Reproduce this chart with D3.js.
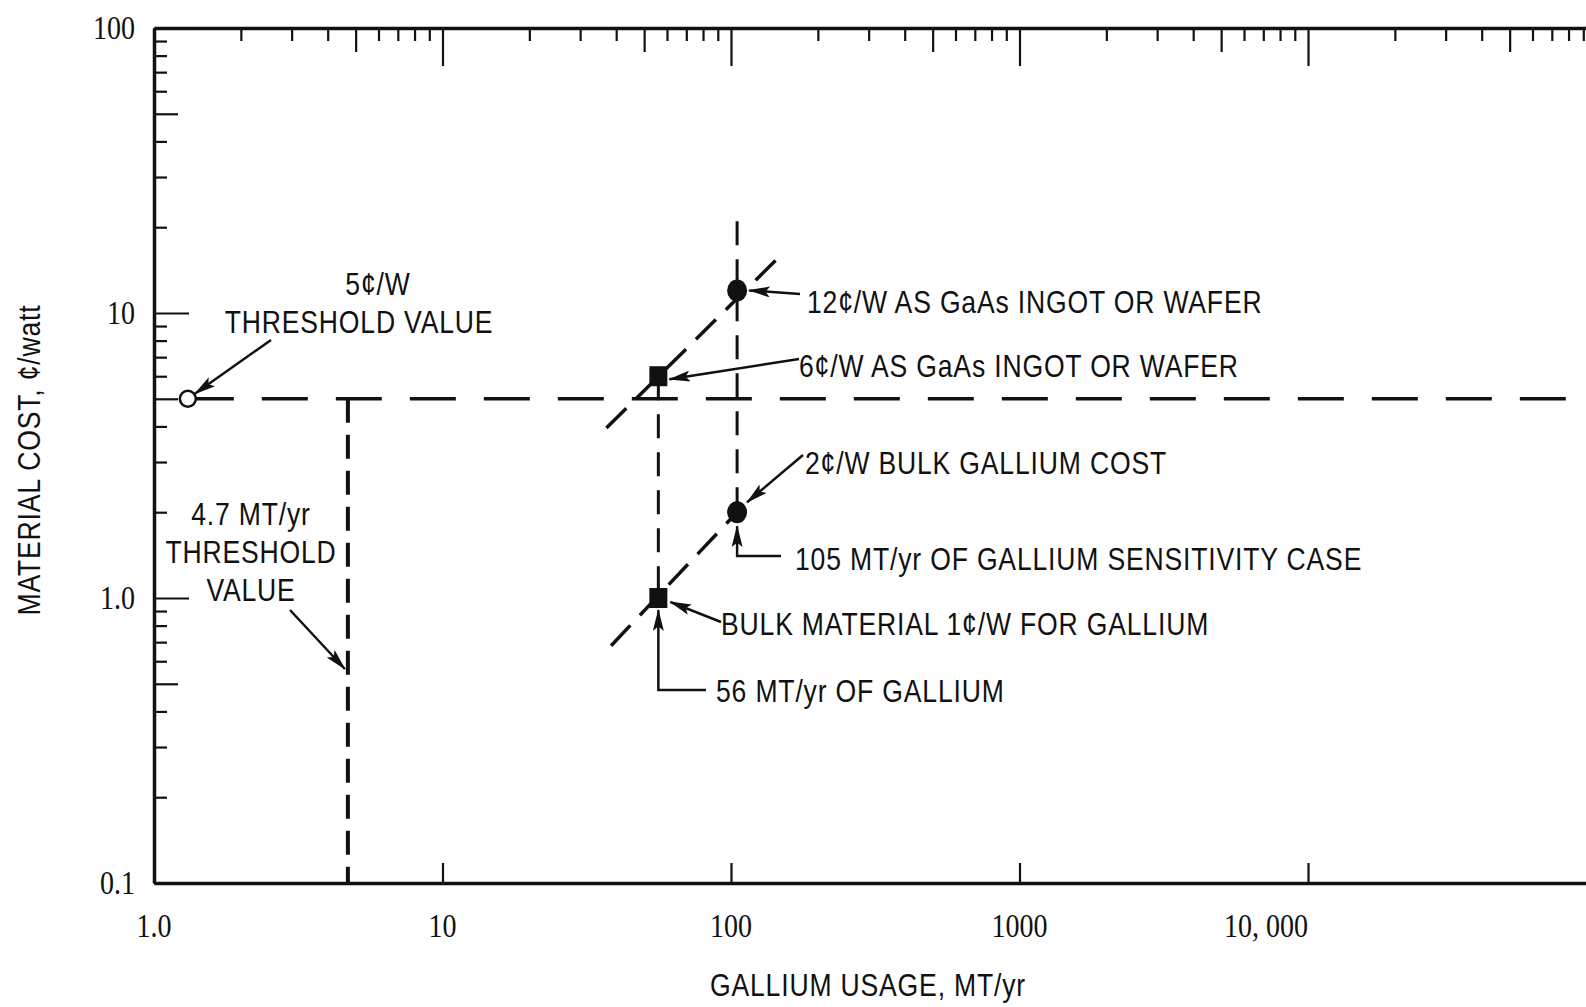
<!DOCTYPE html>
<html>
<head>
<meta charset="utf-8">
<script src="https://cdn.jsdelivr.net/npm/d3@7"></script>
<style>
  body { margin: 0; background: #fff; }
  svg { display: block; }
  .lbl { font-family: "Liberation Sans", Arial, sans-serif; font-size: 32px; letter-spacing: 1px; fill: #111; }
  .num { font-family: "Liberation Serif", "DejaVu Serif", serif; font-size: 33px; fill: #111; }
</style>
</head>
<body>
<svg id="chart" width="1586" height="1007"></svg>
<script>
// 軸の目盛り
var xTicks = [1, 10, 100, 1000, 10000];
var xTickLabels = ["1.0", "10", "100", "1000", "10, 000"];
var yTicks = [0.1, 1, 10, 100];
var yTickLabels = ["0.1", "1.0", "10", "100"];

// しきい値
var thresholdCost = 5;        // ¢/W
var thresholdUsage = 4.7;     // MT/yr
var thresholdPoint = [1.31, 5];

// ガリウム使用量ケース
var caseUsage = [56, 105];
var ingotCost = [6, 12];
var bulkCost = [1, 2];

// 破線の端点
var ingotLine = [[37, 3.95], [154, 16.5]];
var bulkLine = [[38.4, 0.68], [105, 2]];
var sensTop = 21;

var svg = d3.select("#chart");

var x = d3.scaleLog().domain([1, 1e5]).range([154, 154 + 5 * 288.5]);
var y = d3.scaleLog().domain([0.1, 100]).range([883, 28]);

// 各桁の 2..9 の補助目盛り
function minorTicks(lo, hi) {
  var out = [];
  for (var p = lo; p < hi; p *= 10)
    for (var k = 1; k < 10; k++) out.push(p * k);
  out.push(hi);
  return out;
}
function tickLen(d, big, mid, small) {
  var m = Math.round(d / Math.pow(10, Math.floor(Math.log10(d) + 1e-9)));
  if (m === 1) return big;
  if (m === 5) return mid;
  return small;
}

// 上の軸 (目盛りは内向き)
var gTop = svg.append("g")
  .attr("transform", "translate(0," + y(100) + ")")
  .call(d3.axisBottom(x).tickValues(minorTicks(1, 1e5)).tickFormat("").tickSizeOuter(0));
gTop.selectAll(".tick line").attr("y2", function(d) { return tickLen(d, 38, 24, 13); });

// 左の軸
var gLeft = svg.append("g")
  .attr("transform", "translate(" + x(1) + ",0)")
  .call(d3.axisRight(y).tickValues(minorTicks(0.1, 100)).tickFormat("").tickSizeOuter(0));
gLeft.selectAll(".tick line").attr("x2", function(d) { return tickLen(d, 35, 24, 13); });

// 下の軸 (桁ごとの目盛りのみ)
var gBot = svg.append("g")
  .attr("transform", "translate(0," + y(0.1) + ")")
  .call(d3.axisTop(x).tickValues(xTicks).tickFormat("").tickSize(20).tickSizeOuter(0));

[gTop, gLeft, gBot].forEach(function(g) {
  g.select(".domain").attr("stroke", "#111").attr("stroke-width", 3.5);
  g.selectAll(".tick line").attr("stroke", "#111").attr("stroke-width", 2.2);
});

// 目盛りラベル
svg.append("g").selectAll("text")
  .data(xTicks).enter().append("text")
  .attr("class", "num")
  .attr("transform", function(d, i) {
    return "translate(" + x(d) + ",937) scale(0.85,1)";
  })
  .attr("text-anchor", function(d, i) { return i === xTicks.length - 1 ? "end" : "middle"; })
  .text(function(d, i) { return xTickLabels[i]; });

svg.append("g").selectAll("text")
  .data(yTicks).enter().append("text")
  .attr("class", "num")
  .attr("transform", function(d) { return "translate(135," + (y(d) + 11) + ") scale(0.85,1)"; })
  .attr("text-anchor", "end")
  .text(function(d, i) { return yTickLabels[i]; });

// 軸タイトル
svg.append("text").attr("class", "lbl")
  .attr("transform", "translate(868,996) scale(0.83,1)").attr("text-anchor", "middle")
  .text("GALLIUM USAGE, MT/yr");
svg.append("text").attr("class", "lbl")
  .attr("transform", "translate(40,460) rotate(-90) scale(0.83,1)")
  .attr("text-anchor", "middle")
  .text("MATERIAL COST, ¢/watt");

// 矢印
svg.append("defs").append("marker")
  .attr("id", "arr").attr("viewBox", "0 0 20 10")
  .attr("refX", 19).attr("refY", 5)
  .attr("markerWidth", 22).attr("markerHeight", 11)
  .attr("markerUnits", "userSpaceOnUse")
  .attr("orient", "auto")
  .append("path").attr("d", "M0,0 L20,5 L0,10 L4,5 Z").attr("fill", "#111");

var line = d3.line().x(function(d) { return x(d[0]); }).y(function(d) { return y(d[1]); });

function dashed(pts, dash, w) {
  svg.append("path").attr("d", line(pts))
    .attr("fill", "none").attr("stroke", "#111")
    .attr("stroke-width", w || 3.5).attr("stroke-dasharray", dash);
}

// しきい値の破線
dashed([[thresholdPoint[0], thresholdCost], [1e5, thresholdCost]], "46,28");
dashed([[thresholdUsage, thresholdCost], [thresholdUsage, 0.1]], "24,12", 4);

// ケースの破線
dashed(ingotLine, "28,14");
dashed(bulkLine, "28,14");
dashed([[caseUsage[1], sensTop], [caseUsage[1], bulkCost[1]]], "24,14", 3);
dashed([[caseUsage[0], ingotCost[0]], [caseUsage[0], bulkCost[0]]], "24,14", 3);

// 点
svg.append("circle")
  .attr("cx", x(thresholdPoint[0])).attr("cy", y(thresholdPoint[1])).attr("r", 8)
  .attr("fill", "#fff").attr("stroke", "#111").attr("stroke-width", 2.5);

svg.append("g").selectAll("ellipse")
  .data([[caseUsage[1], ingotCost[1]], [caseUsage[1], bulkCost[1]]])
  .enter().append("ellipse")
  .attr("cx", function(d) { return x(d[0]); })
  .attr("cy", function(d) { return y(d[1]); })
  .attr("rx", 10).attr("ry", 11).attr("fill", "#111");

svg.append("g").selectAll("rect")
  .data([[caseUsage[0], ingotCost[0]], [caseUsage[0], bulkCost[0]]])
  .enter().append("rect")
  .attr("x", function(d) { return x(d[0]) - 9; })
  .attr("y", function(d) { return y(d[1]) - 10; })
  .attr("width", 18).attr("height", 20).attr("fill", "#111");

// 注記
function arrow(pts) {
  svg.append("path")
    .attr("d", d3.line()(pts))
    .attr("fill", "none").attr("stroke", "#111").attr("stroke-width", 2.5)
    .attr("marker-end", "url(#arr)");
}
function label(txt, px, py, anchor) {
  svg.append("text").attr("class", "lbl")
    .attr("transform", "translate(" + px + "," + py + ") scale(0.83,1)")
    .attr("text-anchor", anchor || "start").text(txt);
}

label("5¢/W", 378, 295, "middle");
label("THRESHOLD VALUE", 359, 333, "middle");
arrow([[271, 340], [x(thresholdPoint[0]) + 7, y(thresholdPoint[1]) - 5]]);

label("4.7 MT/yr", 251, 525, "middle");
label("THRESHOLD", 251, 563, "middle");
label("VALUE", 251, 601, "middle");
arrow([[290, 610], [x(thresholdUsage) - 3, 669]]);

label("12¢/W AS GaAs INGOT OR WAFER", 807, 313);
arrow([[800, 294], [x(caseUsage[1]) + 12, y(ingotCost[1])]]);

label("6¢/W AS GaAs INGOT OR WAFER", 799, 377);
arrow([[799, 359], [x(caseUsage[0]) + 11, y(ingotCost[0]) + 3]]);

label("2¢/W BULK GALLIUM COST", 805, 474);
arrow([[803, 455], [x(caseUsage[1]) + 10, y(bulkCost[1]) - 10]]);

label("105 MT/yr OF GALLIUM SENSITIVITY CASE", 795, 570);
arrow([[781, 556], [x(caseUsage[1]), 556], [x(caseUsage[1]), y(bulkCost[1]) + 14]]);

label("BULK MATERIAL 1¢/W FOR GALLIUM", 721, 635);
arrow([[721, 622], [x(caseUsage[0]) + 12, y(bulkCost[0]) + 4]]);

label("56 MT/yr OF GALLIUM", 716, 702);
arrow([[706, 690], [x(caseUsage[0]), 690], [x(caseUsage[0]), y(bulkCost[0]) + 12]]);
</script>
</body>
</html>
